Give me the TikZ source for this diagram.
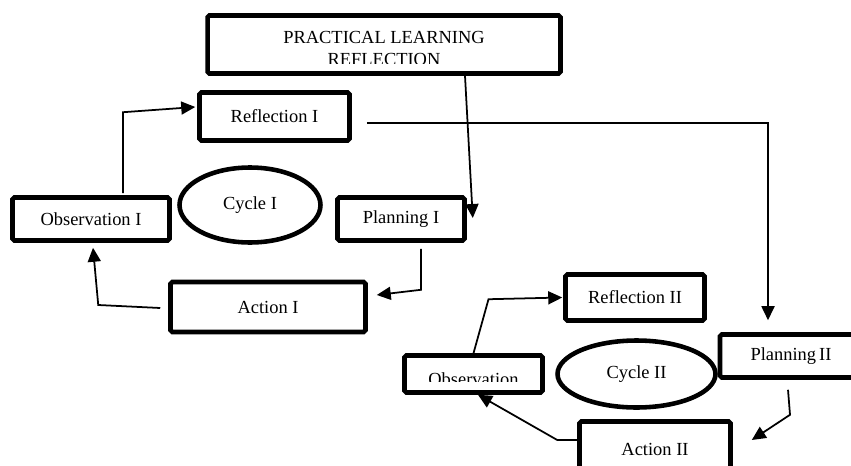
\documentclass[tikz,border=0pt]{standalone}
\usepackage{fontspec}
\setmainfont{Liberation Serif}
\usetikzlibrary{arrows.meta,calc,shapes.geometric}

\begin{document}
\begin{tikzpicture}[x=0.02cm,y=-0.02cm,font=\fontsize{10.5}{13}\selectfont,
box/.style={draw,line width=2.6pt,rounded corners=1pt,inner sep=0pt},
cyc/.style={ellipse,draw,line width=2.6pt,inner sep=0pt},
arr/.style={line width=1pt,-{Triangle[length=2.8mm,width=2.6mm]}}]
\useasboundingbox (0,0) rectangle (851,466);
% top box, its text is cut off at the bottom
\node[box,minimum width=70.6mm,minimum height=11.6mm] (prl) at (384,44.5) {};
\begin{scope}
\clip ($(prl.south west)+(0,-12)$) rectangle (prl.north east);
\node[align=center] (prltxt) at ($(prl.center)+(0,4)$) {PRACTICAL LEARNING\\REFLECTION};
\end{scope}
% cycle I
\node[box,minimum width=30mm,minimum height=9.6mm] (ref1) at (274.5,116.5) {Reflection I};
\node[box,minimum width=31.4mm,minimum height=8.6mm] (obs1) at (91,219) {Observation I};
\node[cyc,minimum width=28.2mm,minimum height=15mm] (cyc1) at (250,205) {Cycle I};
\node[box,minimum width=25.4mm,minimum height=8.6mm] (pl1) at (401,219) {Planning I};
\node[box,minimum width=39mm,minimum height=10mm] (act1) at (268,307) {Action I};
% cycle II
\node[box,minimum width=27.8mm,minimum height=9.2mm] (ref2) at (635,297.5) {Reflection II};
\node[box,minimum width=27.6mm,minimum height=7.4mm] (obs2) at (473.5,374) {};
\begin{scope}
\clip (obs2.north west) rectangle ($(obs2.south east)+(0,-13)$);
\node[anchor=base] (obs2txt) at ($(obs2.center)+(0,11)$) {Observation};
\end{scope}
\node[cyc,minimum width=31.6mm,minimum height=13.4mm] (cyc2) at (636.5,374) {Cycle II};
\node[box,minimum width=28.4mm,minimum height=8.6mm] (pl2) at (791,356) {Planning\,II};
\node[box,minimum width=30.2mm,minimum height=11mm] (act2) at (655,449) {Action II};
% arrows
\draw[arr] ($(prl.south)+(81,0)$) -- ($(pl1.east)+(6,-1)$);
\draw[arr] ($(pl1.south)+(20,6)$) -- ++(0,41) -- ($(act1.east)+(9,-12)$);
\draw[arr] ($(act1.west)+(-8,1)$) -- ++(-62,-3) -- ($(obs1.south)+(2,5)$);
\draw[arr] ($(obs1.north)+(32,-2)$) -- ++(0,-81) -- ($(ref1.west)+(-2,-9.5)$);
\draw[arr] ($(ref1.east)+(15,6.5)$) -| ($(pl2.north)+(-23,-12)$);
\draw[arr] ($(pl2.south)+(-3,10)$) -- ++(2,25) -- ($(act2.east)+(19,-9)$);
\draw[arr] ($(act2.west)+(0,-9)$) -- ++(-20,0) -- ($(obs2.south)+(4.5,0)$);
\draw[arr] (obs2.north) -- ++(15,-54) -- ($(ref2.west)+(-1,0)$);
\end{tikzpicture}
\end{document}
